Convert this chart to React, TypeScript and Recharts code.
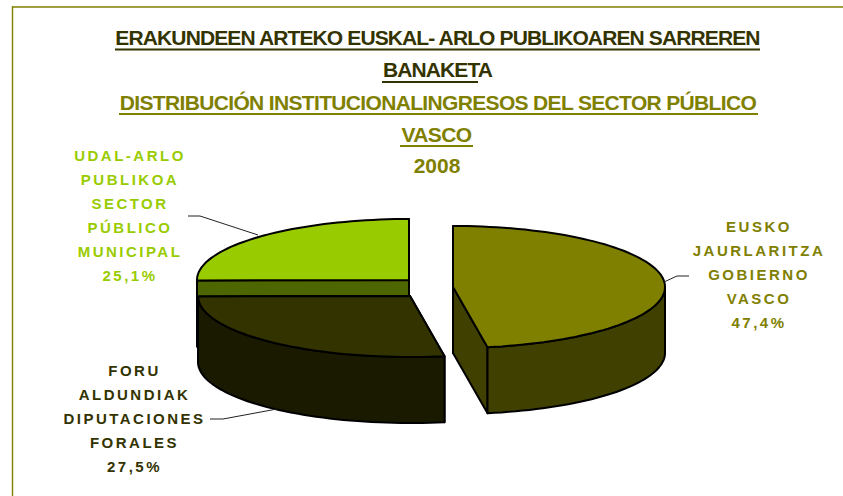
import React from 'react';
import { PieChart, Pie } from 'recharts';

// Data
const sliceNames = ['udal', 'foru', 'eusko'];
const sliceValues = [25.1, 27.5, 47.4];
const udalLines = ['UDAL-ARLO', 'PUBLIKOA', 'SECTOR', 'PÚBLICO', 'MUNICIPAL'];
const foruLines = ['FORU', 'ALDUNDIAK', 'DIPUTACIONES', 'FORALES'];
const euskoLines = ['EUSKO', 'JAURLARITZA', 'GOBIERNO', 'VASCO'];
const sliceLines: Record<string, string[]> = { udal: udalLines, foru: foruLines, eusko: euskoLines };

const chartData = sliceNames.map((name, i) => ({ name, value: sliceValues[i] }));

// Look of the fake 3D pie
const WIDTH = 843;
const HEIGHT = 496;
const CX = 409;
const CY = 280;
const RADIUS = 212;
const SQUASH = 61 / 212;
const DEPTH = 66;

const sliceStyle: Record<string, any> = {
  udal: {
    top: '#99CC00', wall: '#4D6600', text: '#99CC00', dx: 0, dy: 0,
    labelX: 130, labelY: 161, leader: '188,216 200,216 258,235',
  },
  foru: {
    top: '#333300', wall: '#1A1A00', text: '#333300', dx: 1, dy: 16,
    labelX: 134.5, labelY: 376, leader: '210,419 223,419 277,409',
  },
  eusko: {
    top: '#808000', wall: '#404000', text: '#808000', dx: 44, dy: 7,
    labelX: 759, labelY: 232, leader: '689,276 677,276 664,282',
  },
};

const rad = (deg: number) => (deg * Math.PI) / 180;

// one point on the squashed rim, recharts angles are counter clockwise from east
const rimPoint = (cx: number, cy: number, r: number, deg: number, drop = 0) =>
  `${(cx + r * Math.cos(rad(deg))).toFixed(1)},${(cy - r * SQUASH * Math.sin(rad(deg)) + drop).toFixed(1)}`;

const rimPoints = (cx: number, cy: number, r: number, from: number, to: number, drop = 0) => {
  const pts: string[] = [];
  const steps = Math.max(2, Math.ceil(Math.abs(to - from) / 2));
  for (let i = 0; i <= steps; i++) {
    pts.push(rimPoint(cx, cy, r, from + ((to - from) * i) / steps, drop));
  }
  return pts;
};

const Slice3D = (props: any) => {
  const { cx, cy, outerRadius, startAngle, endAngle } = props;
  const style = sliceStyle[props.name ?? props.payload?.name];
  const x = cx + style.dx;
  const y = cy + style.dy;
  const r = outerRadius;

  const cutFace = (deg: number) =>
    `M${x},${y} L${rimPoint(x, y, r, deg)} L${rimPoint(x, y, r, deg, DEPTH)} L${x},${y + DEPTH} Z`;

  // outer wall only where the rim faces the viewer (180..360)
  const from = Math.max(startAngle, 180);
  const to = Math.min(endAngle, 360);
  const wall =
    to > from
      ? `M${rimPoints(x, y, r, from, to).join(' L')} L${rimPoints(x, y, r, to, from, DEPTH).join(' L')} Z`
      : '';
  const top = `M${x},${y} L${rimPoints(x, y, r, startAngle, endAngle).join(' L')} Z`;

  return (
    <g stroke="#000" strokeWidth={2} strokeLinejoin="round">
      <path d={cutFace(startAngle)} fill={style.wall} />
      <path d={cutFace(endAngle)} fill={style.wall} />
      {wall && <path d={wall} fill={style.wall} />}
      <path d={top} fill={style.top} />
    </g>
  );
};

const SliceLabel = (props: any) => {
  const name = props.name ?? props.payload?.name;
  const style = sliceStyle[name];
  const pct = `${Number(props.value).toFixed(1).replace('.', ',')}%`;
  const rows = [...sliceLines[name], pct];
  return (
    <text
      textAnchor="middle"
      fill={style.text}
      fontFamily="'Liberation Sans', Arial, sans-serif"
      fontWeight={700}
      fontSize={15}
      letterSpacing={2.5}
    >
      {rows.map((row, i) => (
        <tspan key={row} x={style.labelX} y={style.labelY + i * 24}>
          {row}
        </tspan>
      ))}
    </text>
  );
};

const LeaderLine = (props: any) => {
  const style = sliceStyle[props.name ?? props.payload?.name];
  return <polyline points={style.leader} fill="none" stroke="#222" strokeWidth={1} />;
};

const titleFont = {
  fontFamily: "'Liberation Sans', Arial, sans-serif",
  fontWeight: 700,
  fontSize: 21,
  textAnchor: 'middle' as const,
};

export default function App() {
  return (
    <div style={{ position: 'absolute', left: 0, top: 0, width: WIDTH, height: HEIGHT, background: '#fff', overflow: 'hidden' }}>
      <PieChart width={WIDTH} height={HEIGHT} margin={{ top: 0, right: 0, bottom: 0, left: 0 }}>
        {/* frame, only top and left show */}
        <line x1={12} y1={7} x2={WIDTH} y2={7} stroke="#A0A040" strokeWidth={2} />
        <line x1={12.5} y1={6} x2={12.5} y2={HEIGHT} stroke="#808000" strokeWidth={1.4} />

        <text x={437.5} y={45} fill="#333300" letterSpacing={-0.88} {...titleFont}>
          ERAKUNDEEN ARTEKO EUSKAL- ARLO PUBLIKOAREN SARREREN
        </text>
        <line x1={115} y1={49.5} x2={760} y2={49.5} stroke="#333300" strokeWidth={2} />
        <text x={437.5} y={77} fill="#333300" letterSpacing={-0.88} {...titleFont}>
          BANAKETA
        </text>
        <line x1={382} y1={82} x2={478} y2={82} stroke="#333300" strokeWidth={2} />
        <text x={438} y={109.5} fill="#808000" letterSpacing={-0.66} {...titleFont}>
          DISTRIBUCIÓN INSTITUCIONALINGRESOS DEL SECTOR PÚBLICO
        </text>
        <line x1={119} y1={114} x2={758} y2={114} stroke="#808000" strokeWidth={2} />
        <text x={436.5} y={141.5} fill="#808000" letterSpacing={-0.66} {...titleFont}>
          VASCO
        </text>
        <line x1={400} y1={146} x2={473} y2={146} stroke="#808000" strokeWidth={2} />
        <text x={437} y={173} fill="#808000" {...titleFont}>
          2008
        </text>

        <Pie
          data={chartData}
          dataKey="value"
          nameKey="name"
          cx={CX}
          cy={CY}
          innerRadius={0}
          outerRadius={RADIUS}
          startAngle={90}
          endAngle={450}
          paddingAngle={0}
          isAnimationActive={false}
          shape={Slice3D}
          activeShape={Slice3D}
          inactiveShape={Slice3D}
          label={SliceLabel}
          labelLine={LeaderLine}
        />
      </PieChart>
    </div>
  );
}
